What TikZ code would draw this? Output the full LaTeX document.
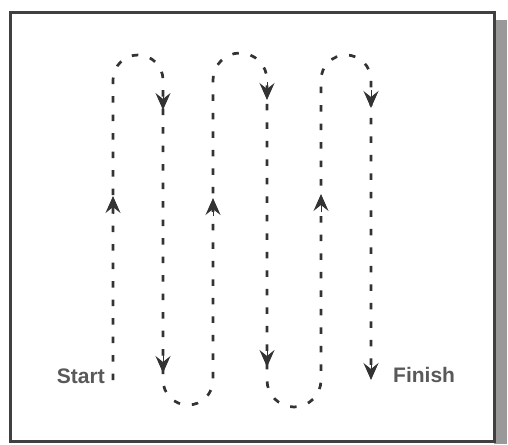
\documentclass[tikz,border=0pt]{standalone}
\usepackage{fontspec}
\setmainfont{Liberation Sans}
\usetikzlibrary{arrows.meta}
\begin{document}
\begin{tikzpicture}[x=1pt,y=-1pt,
  frame/.style={draw=black!75, line width=3pt},
  shadowband/.style={fill=black!40},
  route/.style={draw=black!80, line width=2.7pt, dash pattern=on 6.5pt off 12pt},
  tip/.style={draw=black!80, fill=black!80, line width=1pt,
    -{Stealth[length=17pt,width=15pt,inset=6pt]}},
  lbl/.style={font=\bfseries\fontsize{21}{24}\selectfont, text=black!65, inner sep=0pt}]
\useasboundingbox (0,0) rectangle (508,444);
\fill[white] (0,0) rectangle (508,444);
\path[shadowband] (494,20) rectangle (507,444);
\path[frame] (10,13) rectangle (494,441);
% labels
\node[lbl, anchor=east] (start) at (105,376) {Start};
\node[lbl, anchor=west] (finish) at (393,375) {Finish};
% route
\coordinate (s) at (113,380);
\coordinate (f) at (371,372);
\path[route] (s) -- (113,80) arc[start angle=180, end angle=0, radius=25pt]
  -- (163,380) arc[start angle=180, end angle=360, radius=25pt]
  -- (213,80) arc[start angle=180, end angle=0, radius=27pt]
  -- (267,380) arc[start angle=180, end angle=360, radius=27pt]
  -- (321,80) arc[start angle=180, end angle=0, radius=25pt]
  -- (f);
% arrowheads
\draw[tip] (113,214) -- (113,196);
\draw[tip] (163,92) -- (163,110);
\draw[tip] (213,216) -- (213,198);
\draw[tip] (267,82) -- (267,100);
\draw[tip] (321,212) -- (321,194);
\draw[tip] (371,90) -- (371,108);
\draw[tip] (163,355) -- (163,373);
\draw[tip] (267,349) -- (267,367);
\draw[tip] (371,362) -- (371,380);
\end{tikzpicture}
\end{document}
